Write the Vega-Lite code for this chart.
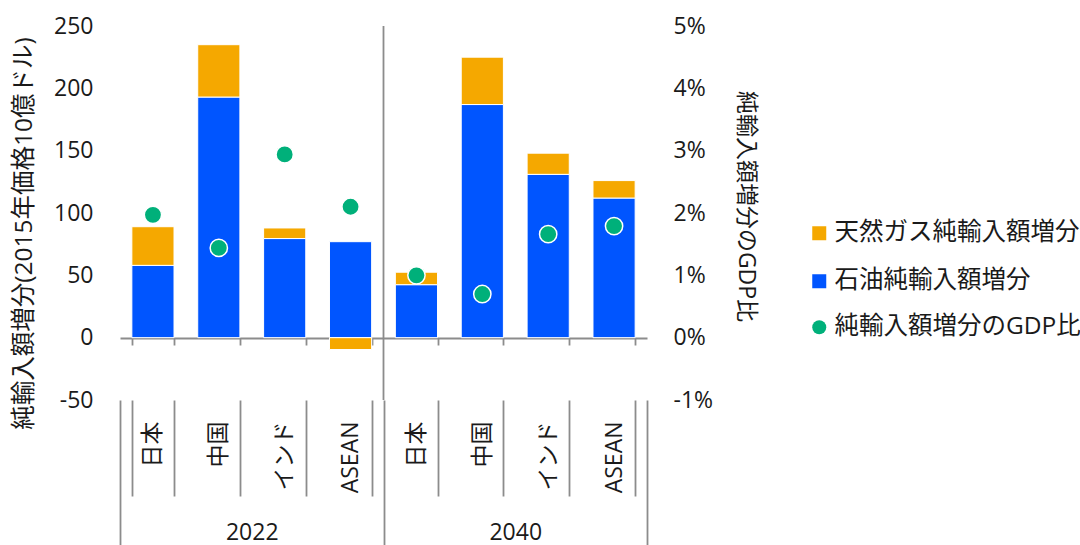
{
  "$schema": "https://vega.github.io/schema/vega-lite/v6.json",
  "width": 527,
  "height": 374,
  "autosize": {"type": "none"},
  "padding": {"left": 120, "top": 26, "right": 433, "bottom": 145},
  "background": "white",
  "config": {
    "view": {"stroke": null},
    "font": "Open Sans, Noto Sans CJK JP",
    "axis": {"grid": false, "labelFont": "Open Sans, Noto Sans CJK JP", "titleFont": "Open Sans, Noto Sans CJK JP", "labelColor": "#1a1a1a", "titleColor": "#1a1a1a", "labelFontSize": 23, "titleFontSize": 23, "titleFontWeight": "normal"},
    "legend": {"labelFont": "Open Sans, Noto Sans CJK JP", "labelFontSize": 24.5, "labelColor": "#1a1a1a", "labelLimit": 0}
  },
  "datasets": {
    "bars": [
      {"key": "2022 日本", "type": "石油純輸入額増分", "value": 58},
      {"key": "2022 日本", "type": "天然ガス純輸入額増分", "value": 31},
      {"key": "2022 中国", "type": "石油純輸入額増分", "value": 193},
      {"key": "2022 中国", "type": "天然ガス純輸入額増分", "value": 42},
      {"key": "2022 インド", "type": "石油純輸入額増分", "value": 79.5},
      {"key": "2022 インド", "type": "天然ガス純輸入額増分", "value": 8.5},
      {"key": "2022 ASEAN", "type": "石油純輸入額増分", "value": 77},
      {"key": "2022 ASEAN", "type": "天然ガス純輸入額増分", "value": -9.5},
      {"key": "2040 日本", "type": "石油純輸入額増分", "value": 42.5},
      {"key": "2040 日本", "type": "天然ガス純輸入額増分", "value": 10},
      {"key": "2040 中国", "type": "石油純輸入額増分", "value": 187},
      {"key": "2040 中国", "type": "天然ガス純輸入額増分", "value": 38},
      {"key": "2040 インド", "type": "石油純輸入額増分", "value": 131},
      {"key": "2040 インド", "type": "天然ガス純輸入額増分", "value": 17},
      {"key": "2040 ASEAN", "type": "石油純輸入額増分", "value": 112},
      {"key": "2040 ASEAN", "type": "天然ガス純輸入額増分", "value": 14}
    ],
    "ratio": [
      {"key": "2022 日本", "type": "純輸入額増分のGDP比", "pct": 0.0197},
      {"key": "2022 中国", "type": "純輸入額増分のGDP比", "pct": 0.0144},
      {"key": "2022 インド", "type": "純輸入額増分のGDP比", "pct": 0.0294},
      {"key": "2022 ASEAN", "type": "純輸入額増分のGDP比", "pct": 0.0210},
      {"key": "2040 日本", "type": "純輸入額増分のGDP比", "pct": 0.0100},
      {"key": "2040 中国", "type": "純輸入額増分のGDP比", "pct": 0.0070},
      {"key": "2040 インド", "type": "純輸入額増分のGDP比", "pct": 0.0166},
      {"key": "2040 ASEAN", "type": "純輸入額増分のGDP比", "pct": 0.0179}
    ]
  },
  "layer": [
    {
      "data": {"name": "bars"},
      "mark": {"type": "bar", "stroke": "white", "strokeWidth": 1},
      "encoding": {
        "x": {
          "field": "key", "type": "nominal", "sort": null,
          "scale": {"paddingInner": 0.36, "paddingOuter": 0.18},
          "axis": {"orient": "bottom", "title": null, "domain": false, "ticks": true, "tickBand": "extent", "tickSize": 96, "tickColor": "#8c8c8c", "tickWidth": 1.8, "labelAngle": -90, "labelPadding": -75, "labelExpr": "split(datum.label, ' ')[1]"}
        },
        "y": {
          "field": "value", "type": "quantitative", "stack": "zero",
          "scale": {"domain": [-50, 250], "nice": false, "zero": false},
          "axis": {"orient": "left", "values": [-50, 0, 50, 100, 150, 200, 250], "labelExpr": "replace(datum.label, '−', '-')", "domain": false, "ticks": false, "labelPadding": 27, "title": "純輸入額増分(2015年価格10億ドル)", "titleFontSize": 24.5, "titleX": -96, "titleY": 207, "titleAngle": -90, "titleAlign": "center", "titleBaseline": "middle"}
        },
        "color": {
          "field": "type", "type": "nominal",
          "scale": {"domain": ["天然ガス純輸入額増分", "石油純輸入額増分"], "range": ["#F5A800", "#0055FF"]},
          "legend": {
            "title": null, "orient": "none", "legendX": 687, "legendY": 195,
            "symbolType": "square", "symbolSize": 196, "symbolStrokeWidth": 0, "labelOffset": 3, "rowPadding": 23
          }
        },
        "order": {"field": "type", "sort": "descending"}
      }
    },
    {
      "data": {"name": "ratio"},
      "mark": {"type": "point", "filled": true, "size": 300, "stroke": "white", "strokeWidth": 1.5, "opacity": 1},
      "encoding": {
        "x": {
          "field": "key", "type": "nominal", "sort": null,
          "scale": {"paddingInner": 0.36, "paddingOuter": 0.18},
          "axis": {"orient": "bottom", "offset": -62, "title": null, "labels": false, "domain": true, "domainColor": "#8c8c8c", "domainWidth": 1.8, "ticks": true, "tickBand": "extent", "tickSize": 7, "tickColor": "#8c8c8c", "tickWidth": 1.8}
        },
        "y": {
          "field": "pct", "type": "quantitative",
          "scale": {"domain": [-0.01, 0.05], "nice": false, "zero": false},
          "axis": {"orient": "right", "values": [-0.01, 0, 0.01, 0.02, 0.03, 0.04, 0.05], "format": ".0%", "labelExpr": "replace(datum.label, '−', '-')", "domain": false, "ticks": false, "labelPadding": 26, "title": "純輸入額増分のGDP比", "titleAngle": 90, "titleX": 98, "titleY": 180, "titleAlign": "center", "titleBaseline": "middle"}
        },
        "fill": {
          "field": "type", "type": "nominal",
          "scale": {"domain": ["純輸入額増分のGDP比"], "range": ["#00B07A"]},
          "legend": {
            "title": null, "orient": "none", "legendX": 687, "legendY": 289,
            "symbolType": "circle", "symbolSize": 196, "symbolStrokeWidth": 0, "labelOffset": 3
          }
        }
      }
    },
    {
      "data": {"values": [{"year": "2040"}]},
      "mark": {"type": "rule", "color": "#8c8c8c", "strokeWidth": 1.8},
      "encoding": {
        "x": {
          "field": "year", "type": "nominal", "bandPosition": 0,
          "scale": {"domain": ["2022", "2040"], "paddingInner": 0, "paddingOuter": 0},
          "axis": {"orient": "bottom", "title": null, "domain": false, "ticks": true, "tickBand": "extent", "tickSize": 145, "tickColor": "#8c8c8c", "tickWidth": 1.8, "labelAngle": 0, "labelPadding": -24}
        }
      }
    }
  ],
  "resolve": {"scale": {"x": "independent", "y": "independent"}, "axis": {"x": "independent", "y": "independent"}}
}
